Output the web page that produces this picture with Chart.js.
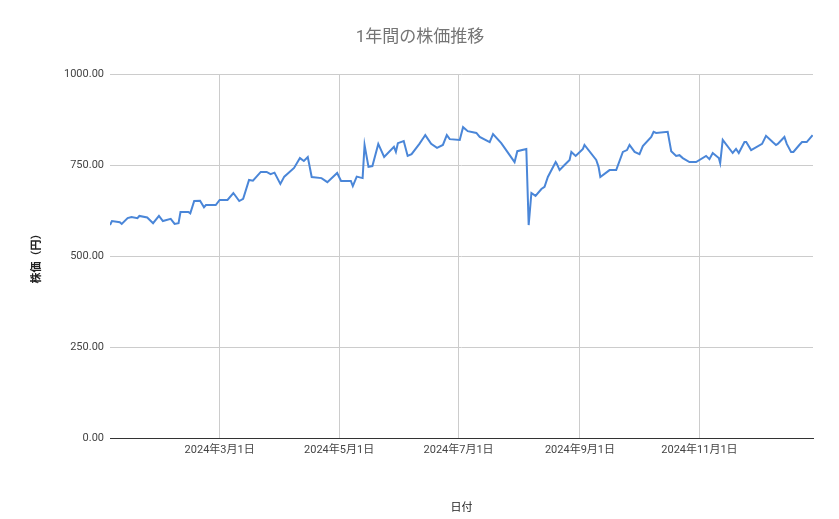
<!DOCTYPE html>
<html><head><meta charset="utf-8">
<script src="https://cdn.jsdelivr.net/npm/chart.js@4"></script>
<style>html,body{margin:0;padding:0;background:#fff}#w{width:839px;height:519px}</style>
</head><body><div id="w"><canvas id="c"></canvas></div>
<script>
const days = [5,6,10,11,14,16,19,20,24,27,30,32,36,38,40,41,45,46,48,51,53,54,59,61,65,68,71,73,76,78,82,85,87,89,92,94,99,102,104,106,108,113,116,121,123,128,129,131,134,135,137,139,142,145,150,151,152,155,157,159,163,165,166,169,172,175,177,178.5,183.6,185.3,187.7,192.1,193.8,198.9,200.6,204.8,206.5,211.6,213,217.6,218.8,220.2,222.3,225.3,226.9,228.6,232.6,233.2,234.6,237.1,239.7,240.6,242.8,245.3,246.5,247.3,253.3,254.5,255.4,260.1,263.5,266.9,269,270.3,272.9,275.4,277.1,281.4,282.6,283.9,289.8,291.6,294.1,295.8,297.5,300.9,304.3,309.4,311.1,312.8,315.9,316.6,317.9,323,324.7,326.1,329,329.9,332.4,338,340,343.4,345.1,346,349.4,350.6,352.8,354,357,358.4,360.8,363.8];
const prices = [585,596,593,588,604,607,604,610,606,590,610,596,602,588,590,621,621,617,651,652,634,640,640,654,654,673,651,657,709,707,731,731,725,729,698,718,742,769,761,772,717,714,703,728,706,706,692,718,714,805,745,747,808,772,800,786,810,816,775,780,808,824,832,808,797,805,832,821,819,854,843,838,827,813,835,810,797,758,788,794,585,673,665,684,690,717,758,753,736,750,764,786,775,788,794,805,764,745,717,736,736,786,791,805,786,780,802,827,841,838,841,788,775,777,769,758,758,775,766,783,769,755,819,783,794,783,813,813,791,808,830,813,805,808,827,808,786,786,805,813,813,832,824];
const tickDays = [61,122,183,245,306];
const tickLabels = ['2024年3月1日','2024年5月1日','2024年7月1日','2024年9月1日','2024年11月1日'];
const yTicks = [0,250,500,750,1000];
const font = "Roboto, 'Noto Sans CJK JP', sans-serif";
new Chart(document.getElementById('c'), {
  type: 'line',
  data: { datasets: [{ data: days.map((d,i)=>({x:d,y:prices[i]})), borderColor:'#4a86d8', borderWidth:2, pointRadius:0, tension:0 }] },
  options: {
    responsive:true, maintainAspectRatio:false, animation:false,
    layout:{padding:{left:27,right:26,top:0,bottom:0}},
    plugins:{ legend:{display:false}, tooltip:{enabled:false},
      title:{display:true,text:'1年間の株価推移',color:'#757575',font:{family:font,size:17,weight:'normal'},padding:{top:28,bottom:25.6}} },
    scales:{
      x:{ type:'linear', min:5, max:364,
        afterBuildTicks:s=>{s.ticks=tickDays.map(v=>({value:v}));},
        afterFit:s=>{s.height=81;},
        ticks:{ maxRotation:0, autoSkip:false, color:'#444', font:{family:font,size:11}, padding:6,
          callback:(v)=>{const i=tickDays.indexOf(v);return i>=0?tickLabels[i]:'';} },
        grid:{ color:'#cccccc', drawTicks:false },
        border:{ display:true, color:'#333' },
        title:{display:true,text:'日付',color:'#222',font:{family:font,size:11},padding:{top:20}} },
      y:{ min:0, max:1000,
        afterBuildTicks:s=>{s.ticks=yTicks.map(v=>({value:v}));},
        afterFit:s=>{s.width=83;},
        ticks:{ color:'#444', font:{family:font,size:11}, padding:6, callback:v=>Number(v).toFixed(2) },
        grid:{ color:'#cccccc', drawTicks:false },
        border:{ display:false },
        title:{display:true,text:'株価（円）',color:'#222',font:{family:font,size:11,weight:'bold'},padding:{bottom:0}} }
    }
  }
});
</script></body></html>
